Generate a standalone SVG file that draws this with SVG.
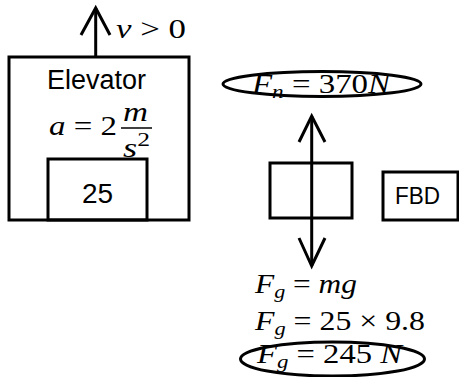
<svg xmlns="http://www.w3.org/2000/svg" width="459" height="377" viewBox="0 0 459 377">
<style>
.s{fill:none;stroke:#000;stroke-width:3}
.sans{font-family:"Liberation Sans",Arial,sans-serif;fill:#000}
.m{font-family:"Liberation Serif","Times New Roman",serif;fill:#000;font-size:27px}
.i{font-style:italic}
.sub{font-size:19px;font-style:italic}
</style>
<rect width="459" height="377" fill="#fff"/>
<g id="elevator">
<rect class="s" x="9" y="57" width="180" height="163"/>
<text class="sans" x="47" y="89" font-size="27" textLength="99" lengthAdjust="spacingAndGlyphs">Elevator</text>
<text class="m" x="49" y="135" textLength="68" lengthAdjust="spacingAndGlyphs"><tspan class="i">a</tspan> = 2</text>
<text class="m i" x="123" y="121" textLength="25" lengthAdjust="spacingAndGlyphs">m</text>
<line x1="121" y1="128" x2="152" y2="128" stroke="#000" stroke-width="1.5"/>
<text class="m" x="123" y="157" textLength="27" lengthAdjust="spacingAndGlyphs"><tspan class="i">s</tspan><tspan font-size="19" dy="-11">2</tspan></text>
</g>
<g id="box25">
<rect class="s" x="48" y="159" width="99" height="61"/>
<text class="sans" x="97.5" y="203" font-size="28" text-anchor="middle">25</text>
</g>
<g id="velocity">
<text class="m" x="116" y="38" textLength="70" lengthAdjust="spacingAndGlyphs"><tspan class="i">v</tspan> &gt; 0</text>
</g>
<g id="fn">
<ellipse class="s" cx="322" cy="84" rx="99" ry="12.5"/>
<text class="m" x="252" y="93" textLength="138" lengthAdjust="spacingAndGlyphs"><tspan class="i">F</tspan><tspan class="sub" dy="5">n</tspan><tspan dy="-5"> = 370</tspan><tspan class="i">N</tspan></text>
</g>
<g id="body">
<rect class="s" x="270" y="163" width="82" height="55"/>
</g>
<g id="fbd">
<rect class="s" x="383" y="172" width="75" height="48"/>
<text class="sans" x="395" y="204" font-size="24" textLength="45" lengthAdjust="spacingAndGlyphs">FBD</text>
</g>
<g id="fg">
<text class="m" x="255" y="293" textLength="102" lengthAdjust="spacingAndGlyphs"><tspan class="i">F</tspan><tspan class="sub" dy="5">g</tspan><tspan dy="-5"> = </tspan><tspan class="i">mg</tspan></text>
<text class="m" x="255" y="330" textLength="170" lengthAdjust="spacingAndGlyphs"><tspan class="i">F</tspan><tspan class="sub" dy="5">g</tspan><tspan dy="-5"> = 25 × 9.8</tspan></text>
<text class="m" x="257" y="363" textLength="145" lengthAdjust="spacingAndGlyphs"><tspan class="i">F</tspan><tspan class="sub" dy="5">g</tspan><tspan dy="-5"> = 245 </tspan><tspan class="i">N</tspan></text>
<ellipse class="s" cx="332.5" cy="359" rx="92" ry="17"/>
</g>
<g id="connectors">
<line class="s" x1="95.7" y1="57" x2="95.7" y2="8"/>
<polyline class="s" points="81,35 95.7,8 110,35"/>
<line class="s" x1="311.7" y1="116" x2="311.7" y2="266"/>
<polyline class="s" points="299,142 311.7,116 325,142"/>
<polyline class="s" points="299,238 311.7,266 325,238"/>
</g>
</svg>
